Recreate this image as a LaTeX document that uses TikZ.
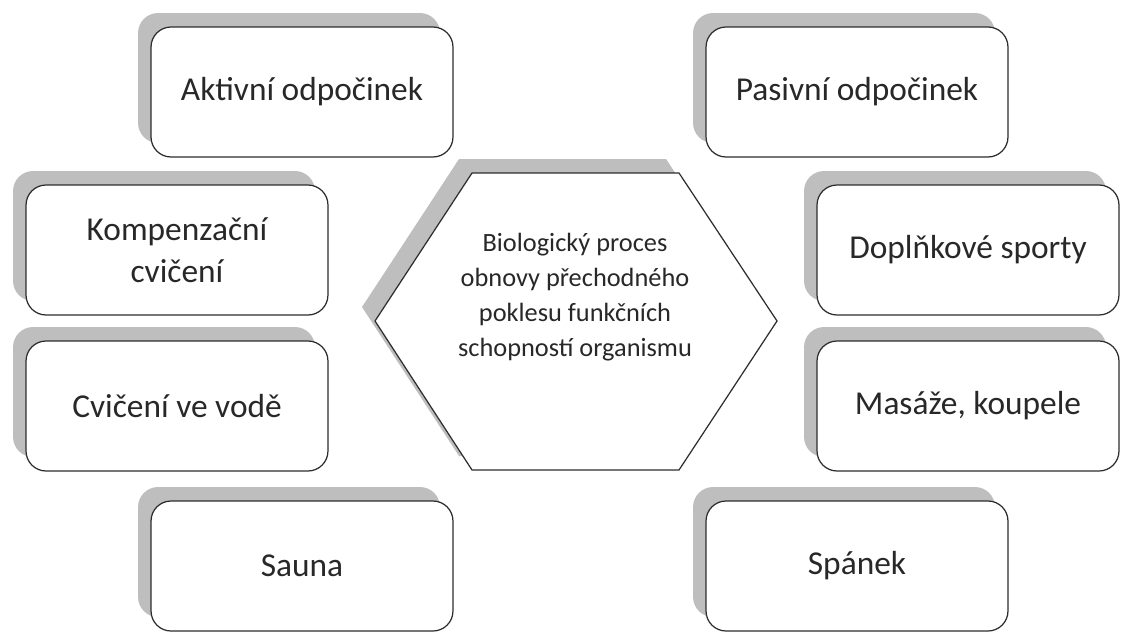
\documentclass[tikz,border=0pt]{standalone}
\usepackage{fontspec}
\setmainfont{Carlito}
\usepackage{xcolor}
\definecolor{shadowgray}{RGB}{190,190,190}
\definecolor{textgray}{RGB}{40,40,40}
\definecolor{linegray}{RGB}{45,45,45}
\usetikzlibrary{shadows}

\begin{document}
\begin{tikzpicture}[
  x=0.02cm,y=-0.02cm,
  boxshadow/.style={drop shadow={shadow xshift=-0.26cm,shadow yshift=0.28cm,
    fill=shadowgray,opacity=1}},
  item/.style={rectangle,rounded corners=0.4cm,draw=linegray,line width=0.7pt,
    fill=white,minimum width=6.04cm,minimum height=2.6cm,align=center,
    font=\fontsize{19}{24}\selectfont\color{textgray},boxshadow},
  hexline/.style={draw=linegray,line width=0.7pt,fill=white,boxshadow}
]
  \useasboundingbox (0,0) rectangle (1121,632);

  % left column
  \node[item] (akt) at (302,92) {Aktivní odpočinek};
  \node[item] (komp) at (177,250) {Kompenzační\\cvičení};
  \node[item] (voda) at (177,406) {Cvičení ve vodě};
  \node[item] (sauna) at (302,566) {Sauna};

  % right column
  \node[item] (pas) at (857,92) {Pasivní odpočinek};
  \node[item] (dopl) at (968,250) {Doplňkové sporty};
  \node[item] (mas) at (968,406) {Masáže, koupele};
  \node[item] (spanek) at (857,566) {Spánek};

  % middle hexagon
  \coordinate (h1) at (472,173);
  \coordinate (h2) at (679,173);
  \coordinate (h3) at (777,321);
  \coordinate (h4) at (679,470);
  \coordinate (h5) at (472,470);
  \coordinate (h6) at (375,321);
  \draw[hexline] (h1) -- (h2) -- (h3) -- (h4) -- (h5) -- (h6) -- cycle;
  \node[align=center,font=\fontsize{15}{20}\selectfont\color{textgray}] (hex)
    at (575,297) {Biologický proces\\obnovy přechodného\\poklesu funkčních\\schopností organismu};
\end{tikzpicture}
\end{document}
